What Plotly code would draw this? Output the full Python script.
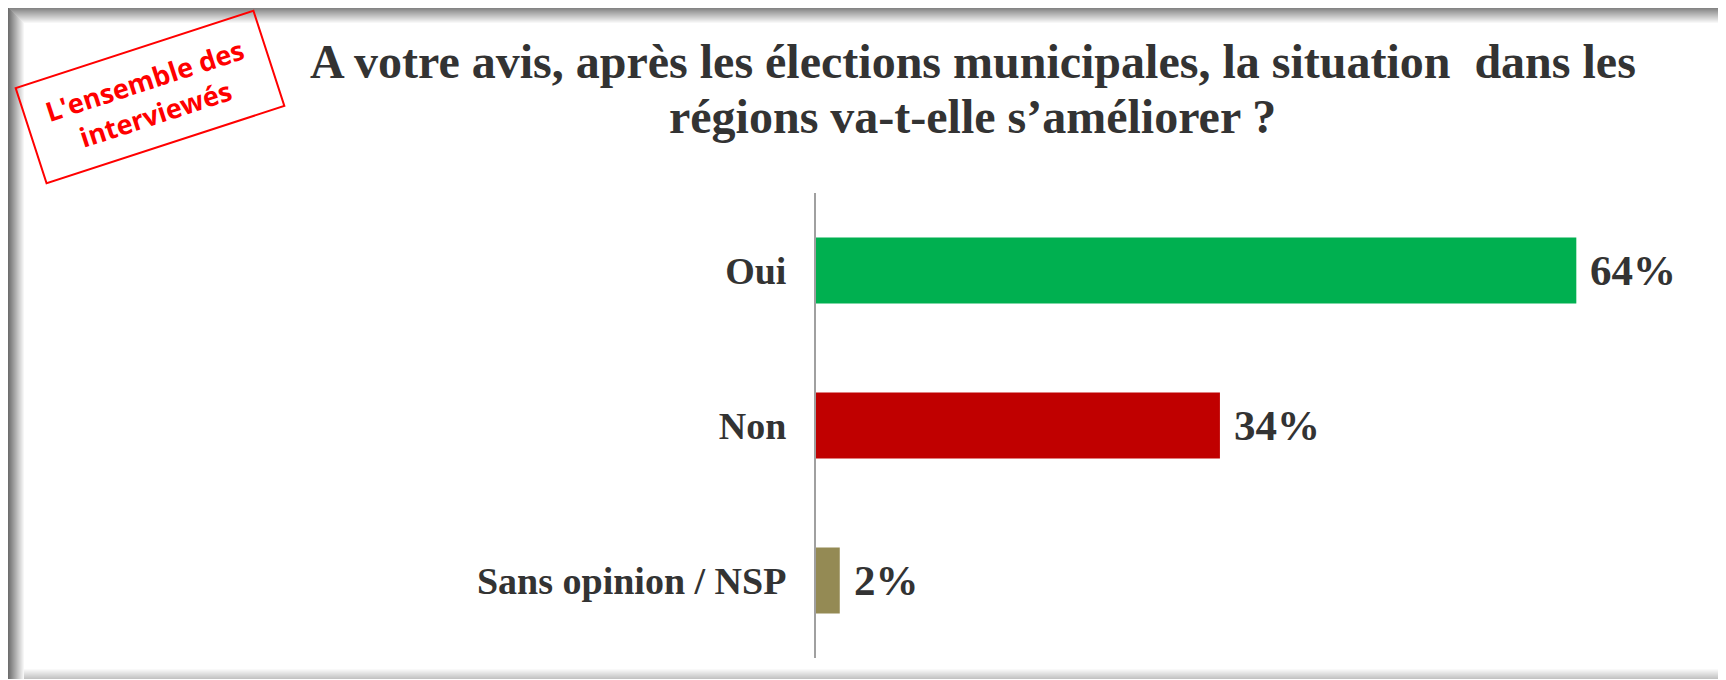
import plotly.graph_objects as go

# survey answers
categories = ["Oui", "Non", "Sans opinion / NSP"]
values = [64, 34, 2]
value_labels = ["64%", "34%", "2%"]
bar_colors = ["#00B050", "#C00000", "#948A54"]

title_lines = ["A votre avis, après les élections municipales, la situation  dans les",
               "régions va-t-elle s’améliorer ?"]
stamp_text = "L'ensemble des<br>interviewés"

W, H = 1726, 680
OFF = 8  # the page body adds 8px around the figure
serif = "Liberation Serif, Times New Roman, serif"
dark = "#333333"


def px(x):
    # page x (pixels) -> paper x
    return (x - OFF) / W


def py(y):
    # page y (pixels from top) -> paper y
    return 1 - (y - OFF) / H


def grey(level):
    level = int(round(level))
    return f"rgb({level},{level},{level})"


PX_PER_PCT = 11.88
AXIS_X = 816

fig = go.Figure(go.Bar(
    x=values,
    y=categories,
    orientation="h",
    marker=dict(color=bar_colors, line=dict(width=0)),
    width=0.425,
    hoverinfo="skip",
))

# value labels next to the bars
for cat, val, lab in zip(categories, values, value_labels):
    fig.add_annotation(x=val, y=cat, text=lab, showarrow=False,
                       xanchor="left", yanchor="middle", xshift=12,
                       font=dict(family=serif, size=43, color=dark, weight="bold"))

# title, two lines placed separately to keep them tight
for line, mid in zip(title_lines, [62, 117]):
    fig.add_annotation(xref="paper", yref="paper", x=px(973), y=py(mid),
                       text=line, showarrow=False, xanchor="center", yanchor="middle",
                       font=dict(family=serif, size=48, color=dark, weight="bold"))

# red stamp in the corner
fig.add_annotation(xref="paper", yref="paper", x=px(150), y=py(97),
                   text=stamp_text, showarrow=False, textangle=-18,
                   xanchor="center", yanchor="middle",
                   width=230, height=80, borderpad=9,
                   bordercolor="#FF0000", borderwidth=2, bgcolor="rgba(0,0,0,0)",
                   font=dict(family="Open Sans, Noto Sans, sans-serif", size=27,
                             color="#FF0000", weight="bold"))

# frame: dark left/top edges fading inward, light bottom edge
shapes = []
n = 16
for i in range(n):
    shapes.append(dict(type="line", xref="paper", yref="paper",
                       x0=px(8.5 + i), x1=px(8.5 + i), y0=py(679), y1=py(7 + i),
                       line=dict(color=grey(110 + 145 * i / n), width=1), layer="below"))
for i in range(n):
    shapes.append(dict(type="line", xref="paper", yref="paper",
                       x0=px(8 + i), x1=1.02, y0=py(7.5 + i), y1=py(7.5 + i),
                       line=dict(color=grey(125 + 130 * i / n), width=1), layer="below"))
m = 10
for i in range(m):
    shapes.append(dict(type="line", xref="paper", yref="paper",
                       x0=px(8 + n), x1=1.02, y0=py(678.5 - i), y1=py(678.5 - i),
                       line=dict(color=grey(195 + 60 * i / m), width=1), layer="below"))
shapes.append(dict(type="line", xref="paper", yref="paper",
                   x0=px(1723.5), x1=px(1723.5), y0=py(679), y1=py(7 + n),
                   line=dict(color="#e6e6e6", width=2), layer="below"))

fig.update_layout(
    width=W, height=H,
    margin=dict(l=0, r=0, t=0, b=0),
    paper_bgcolor="white",
    plot_bgcolor="rgba(0,0,0,0)",
    showlegend=False,
    shapes=shapes,
    xaxis=dict(domain=[px(AXIS_X), 1], range=[0, (W + OFF - AXIS_X) / PX_PER_PCT],
               visible=False, fixedrange=True),
    yaxis=dict(domain=[py(658), py(193)], autorange="reversed",
               showline=True, linecolor="#a0a0a0", linewidth=2,
               showgrid=False, ticks="", ticklabelstandoff=20,
               tickfont=dict(family=serif, size=38, color=dark, weight="bold"),
               fixedrange=True),
)

fig.write_html("out.html")
